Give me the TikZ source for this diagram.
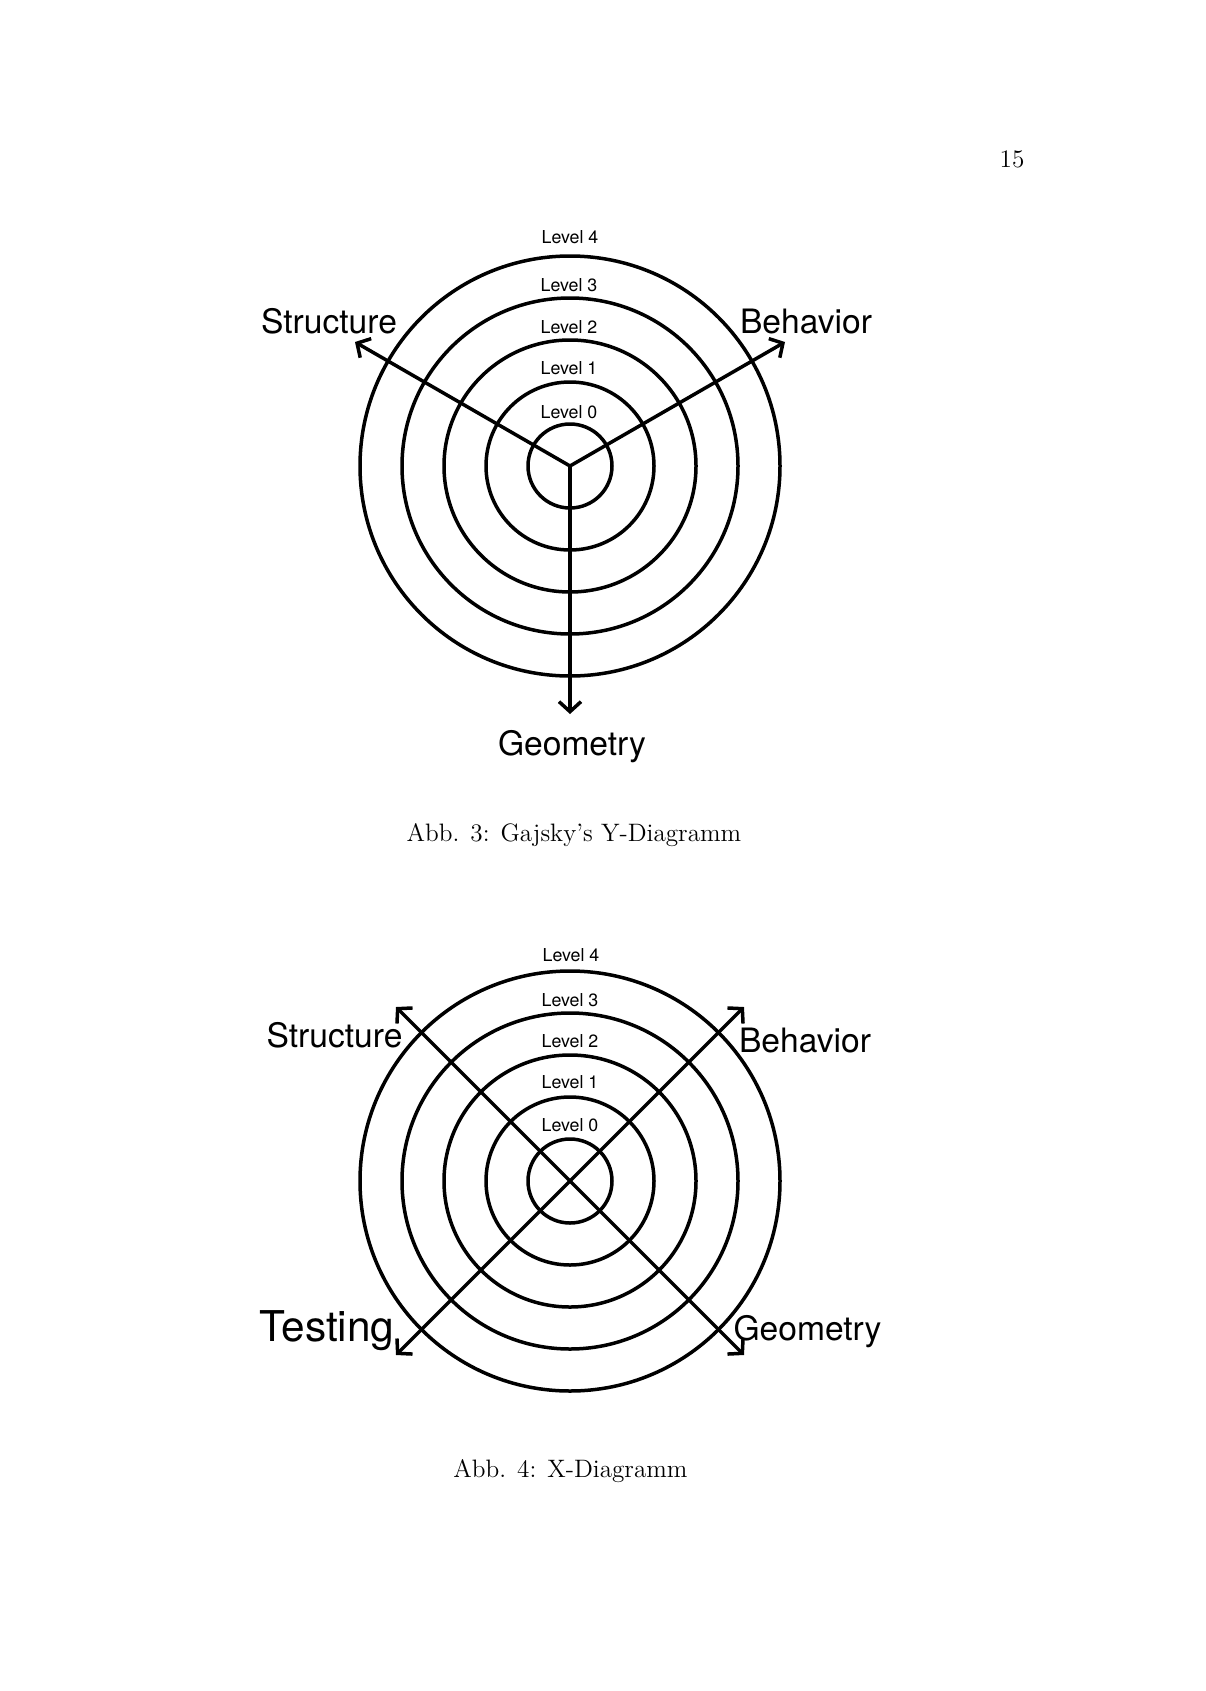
\documentclass[tikz,border=0pt]{standalone}
\usepackage{fontspec}
\newfontfamily\labfont{TeX Gyre Heros}
\usetikzlibrary{arrows.meta}
\begin{document}
\begin{tikzpicture}[x=0.5pt,y=-0.5pt,
  ring/.style={line width=1.75pt},
  tipbarb/.tip={Straight Barb[length=5pt,width=11pt]},
  axis/.style={line width=1.75pt,-tipbarb},
  daxis/.style={line width=1.75pt,tipbarb-tipbarb},
  lvl/.style={font=\labfont\fontsize{8.9}{10}\selectfont,anchor=base,inner sep=0pt},
  big/.style={font=\labfont\fontsize{16.8}{19}\selectfont,anchor=base,inner sep=0pt},
  bigger/.style={font=\labfont\fontsize{21.2}{24}\selectfont,anchor=base,inner sep=0pt},
  capt/.style={font=\fontsize{12.6}{15}\selectfont,anchor=base,inner sep=0pt}]
\useasboundingbox (0,0) rectangle (1205,1691);

% page number
\node[capt] (pnum) at (1012,167) {15};

% ---------- Y diagram ----------
\coordinate (Yc) at (570,466);
\foreach \r in {21,42,63,84,105} \draw[ring] (Yc) circle[radius=\r pt];
\coordinate (ys) at (355,342);
\coordinate (yb) at (785,342);
\coordinate (yg) at (570,714);
\draw[axis] (Yc) -- (ys);
\draw[axis] (Yc) -- (yb);
\draw[axis] (Yc) -- (yg);

\node[lvl] (yl4) at (570,243.5) {Level 4};
\node[lvl] (yl3) at (569,291) {Level 3};
\node[lvl] (yl2) at (569,333) {Level 2};
\node[lvl] (yl1) at (569,374) {Level 1};
\node[lvl] (yl0) at (569,418) {Level 0};

\node[big] (ystr) at (329,333) {Structure};
\node[big] (ybeh) at (806,333) {Behavior};
\node[big] (ygeo) at (572,755) {Geometry};

\node[capt] (cap3) at (574,841) {Abb. 3: Gajsky's Y-Diagramm};

% ---------- X diagram ----------
\coordinate (Xc) at (570,1181);
\foreach \r in {21,42,63,84,105} \draw[ring] (Xc) circle[radius=\r pt];
\coordinate (xs) at (396,1007);
\coordinate (xb) at (744,1007);
\coordinate (xt) at (396,1355);
\coordinate (xg) at (744,1355);
\draw[daxis] (xs) -- (xg);
\draw[daxis] (xt) -- (xb);

\node[lvl] (xl4) at (571,961) {Level 4};
\node[lvl] (xl3) at (570,1006) {Level 3};
\node[lvl] (xl2) at (570,1047.5) {Level 2};
\node[lvl] (xl1) at (570,1088) {Level 1};
\node[lvl] (xl0) at (570,1131) {Level 0};

\node[big] (xstr) at (334.5,1047) {Structure};
\node[big] (xbeh) at (805,1052) {Behavior};
\node[bigger] (xtst) at (327,1341) {Testing};
\node[big] (xgeo) at (807.5,1340) {Geometry};

\node[capt] (cap4) at (570.5,1477) {Abb. 4: X-Diagramm};
\end{tikzpicture}
\end{document}
